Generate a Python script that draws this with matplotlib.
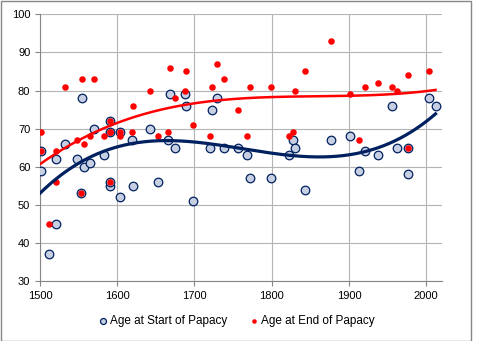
import numpy as np
import matplotlib
matplotlib.use("Agg")
import matplotlib.pyplot as plt
from matplotlib.patches import Rectangle

# Year each pope took office and age at start / end
years = [1501, 1501, 1511.5, 1521, 1521, 1532, 1548, 1553, 1554, 1556.5,
         1565, 1570, 1583, 1590, 1590, 1591, 1591, 1604, 1604, 1619,
         1621, 1643, 1653, 1666, 1668.5, 1675, 1688, 1689, 1698, 1720,
         1722.5, 1729, 1738.5, 1756.5, 1767.5, 1772.5, 1799, 1822, 1827, 1830,
         1843.5, 1876.5, 1901, 1913, 1920.5, 1937, 1956, 1962, 1976, 1976,
         2003, 2012]
age_start = [64, 59, 37, 62, 45, 66, 62, 53, 78, 60,
             61, 70, 63, 69, 55, 72, 56, 69, 52, 67,
             55, 70, 56, 67, 79, 65, 79, 76, 51, 65,
             75, 78, 65, 65, 63, 57, 57, 63, 67, 65,
             54, 67, 68, 59, 64, 63, 76, 65, 65, 58,
             78, 76]
age_end = [64, 69, 45, 64, 56, 81, 67, 53, 83, 66,
           68, 83, 68, 69, 56, 72, 69, 69, 68, 69,
           76, 80, 68, 69, 86, 78, 80, 85, 71, 68,
           81, 87, 83, 75, 68, 81, 81, 68, 69, 80,
           85, 93, 79, 67, 81, 82, 81, 80, 65, 84,
           85, np.nan]

x_ticks = [1500, 1600, 1700, 1800, 1900, 2000]
y_ticks = [30, 40, 50, 60, 70, 80, 90, 100]

navy = "#002060"
fill_blue = "#c6d0e2"
red = "#ff0000"
grid_gray = "#b4b4b4"
axis_gray = "#868686"

plt.rcParams["font.family"] = ["Liberation Sans", "DejaVu Sans"]

x = np.array(years, dtype=float)
ys = np.array(age_start, dtype=float)
ye = np.array(age_end, dtype=float)

fig = plt.figure(figsize=(4.8, 3.41), dpi=100)
ax = fig.add_axes([0.0833, 0.176, 0.8369, 0.782])

# grid
ax.set_axisbelow(True)
ax.grid(True, color=grid_gray, linewidth=0.8)

# scatter points
ax.scatter(x, ys, s=38, facecolor=fill_blue, edgecolor=navy, linewidth=0.9,
           zorder=3, label="Age at Start of Papacy")
ok = ~np.isnan(ye)
ax.scatter(x[ok], ye[ok], s=22, color=red, linewidth=0, zorder=4,
           label="Age at End of Papacy")

# 3rd order polynomial trendlines, as Excel would draw them
xx = np.linspace(1500, x.max(), 300)
p_start = np.polynomial.Polynomial.fit(x, ys, 3)
p_end = np.polynomial.Polynomial.fit(x[ok], ye[ok], 3)
ax.plot(xx, p_start(xx), color=navy, linewidth=2.3, zorder=5)
ax.plot(xx, p_end(xx), color=red, linewidth=1.8, zorder=5)

ax.set_xlim(1500, 2020)
ax.set_ylim(30, 100)
ax.set_xticks(x_ticks)
ax.set_yticks(y_ticks)
ax.tick_params(labelsize=8, colors=axis_gray, length=3.5, width=0.8, labelcolor="black")

for side in ["top", "right"]:
    ax.spines[side].set_visible(False)
for side in ["left", "bottom"]:
    ax.spines[side].set_color(axis_gray)
    ax.spines[side].set_linewidth(0.8)

leg = ax.legend(loc="lower center", bbox_to_anchor=(0.488, -0.19), ncol=2, frameon=False,
                fontsize=8.5, handletextpad=0.05, columnspacing=1.8, markerscale=0.7,
                handlelength=1.0, borderaxespad=0)

# outer chart border
fig.patches.append(Rectangle((0.5 / 480, 0.5 / 341), 470 / 480, 339.5 / 341,
                             transform=fig.transFigure, fill=False,
                             edgecolor=axis_gray, linewidth=1.0))

fig.savefig("out.png", dpi=100)
